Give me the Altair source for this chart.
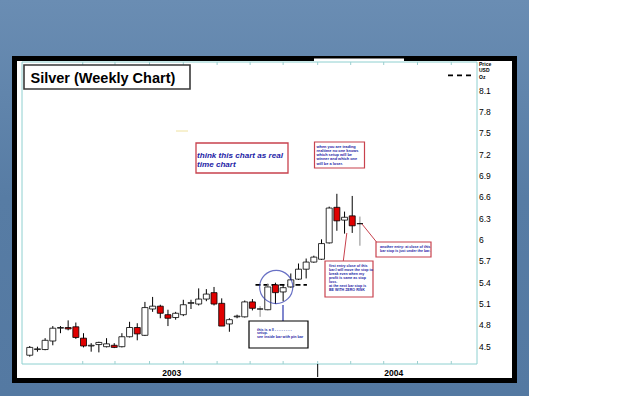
import altair as alt
import pandas as pd

# ---- data (weekly silver candles) ----
opens  = [4.38, 4.46, 4.46, 4.58, 4.76, 4.77, 4.78, 4.62, 4.51, 4.53, 4.50, 4.52, 4.50, 4.64, 4.77,
          4.66, 5.03, 5.07, 4.95, 4.91, 4.95, 5.11, 5.10, 5.17, 5.26, 5.11, 4.82, 4.92, 4.92, 5.13,
          5.03, 5.02, 5.37, 5.27, 5.34, 5.45, 5.59, 5.69, 5.73, 5.96, 6.46, 6.28, 6.34, 6.23]
highs  = [4.51, 4.50, 4.62, 4.79, 4.79, 4.87, 4.84, 4.69, 4.55, 4.57, 4.62, 4.55, 4.69, 4.85, 4.83,
          5.13, 5.20, 5.09, 5.02, 4.99, 5.16, 5.16, 5.32, 5.31, 5.34, 5.18, 4.90, 4.95, 5.15, 5.17,
          5.07, 5.39, 5.40, 5.38, 5.53, 5.67, 5.74, 5.78, 6.01, 6.47, 6.65, 6.40, 6.62, 6.33]
lows   = [4.36, 4.43, 4.45, 4.52, 4.69, 4.73, 4.61, 4.49, 4.43, 4.42, 4.49, 4.48, 4.49, 4.63, 4.59,
          4.65, 4.99, 4.90, 4.79, 4.88, 4.93, 5.03, 5.08, 5.14, 5.08, 4.79, 4.71, 4.90, 4.91, 5.01,
          4.92, 5.01, 5.10, 5.14, 5.33, 5.44, 5.46, 5.68, 5.72, 5.95, 6.13, 6.09, 6.10, 5.92]
closes = [4.49, 4.47, 4.59, 4.76, 4.77, 4.75, 4.63, 4.51, 4.52, 4.56, 4.54, 4.49, 4.64, 4.77, 4.68,
          5.05, 5.07, 4.97, 4.90, 4.97, 5.09, 5.12, 5.17, 5.24, 5.10, 4.79, 4.88, 4.93, 5.13, 5.04,
          5.03, 5.34, 5.26, 5.33, 5.44, 5.59, 5.69, 5.76, 5.95, 6.45, 6.27, 6.32, 6.20, 6.23]
live_bars = [30, 31, 43]            # bars drawn with grey wicks

price_ticks = [4.5, 4.8, 5.1, 5.4, 5.7, 6.0, 6.3, 6.6, 6.9, 7.2, 7.5, 7.8, 8.1]
price_labels = ["4.5", "4.8", "5.1", "5.4", "5.7", "6", "6.3", "6.6", "6.9", "7.2", "7.5", "7.8", "8.1"]
month_ticks = [6.9, 11.1, 15.6, 20.0, 24.4, 28.7, 33.0, 37.5, 41.8, 46.1, 50.5, 54.9]
year_names = ["2003", "2004"]
year_centres = [18.5, 47.4]
year_break = [37.5]
entry_level = [5.37]
entry_from = [29.4]
entry_to = [36.1]
setup_week = [32.1]
setup_price = [5.34]

FONT = "Liberation Sans"
BLUE_TXT = "#2323a6"
RED_BOX = "#c8414d"

candles = pd.DataFrame({"i": list(range(len(opens))), "open": opens, "high": highs,
                        "low": lows, "close": closes})
candles["fill"] = ["#e00000" if c < o else "white" for o, c in zip(opens, closes)]
candles["wick"] = ["#8a8a8a" if i in live_bars else "black" for i in candles["i"]]

xs = alt.Scale(domain=[-0.36, 57.73], range=[22, 478], zero=False, nice=False)
ys = alt.Scale(domain=[4.5, 8.1], range=[346.7, 90.7], zero=False, nice=False)

one = pd.DataFrame({"k": [0]})


def rect(x, x2, y, y2, **kw):
    return alt.Chart(one).mark_rect(**kw).encode(
        x=alt.value(x), x2=alt.value(x2), y=alt.value(y), y2=alt.value(y2))


def seg(x, y, x2, y2, **kw):
    return alt.Chart(one).mark_rule(**kw).encode(
        x=alt.value(x), x2=alt.value(x2), y=alt.value(y), y2=alt.value(y2))


def txt(x, y, lines, **kw):
    return alt.Chart(one).mark_text(text=lines, align="left", baseline="alphabetic",
                                    font=FONT, **kw).encode(x=alt.value(x), y=alt.value(y))


layers = []
# slide background
layers.append(rect(0, 529, 0, 396, fill=alt.Gradient(
    gradient="linear", x1=0, x2=0, y1=0, y2=1,
    stops=[alt.GradientStop(color="#6a8db3", offset=0),
           alt.GradientStop(color="#577ca4", offset=0.5),
           alt.GradientStop(color="#5479a2", offset=1)])))
# black frame + white sheet
layers.append(rect(12, 517, 56, 383, fill="black"))
layers.append(rect(17, 512, 61, 378, fill="white"))
layers.append(rect(314, 404, 58.5, 61, fill="white"))
# plot border
layers.append(rect(22, 477, 62, 364, fill="white", stroke="#8ed0d0", strokeWidth=1))

ticks_df = pd.DataFrame({"t": month_ticks})
layers.append(alt.Chart(ticks_df).mark_rule(color="#9ccfcf", strokeWidth=1).encode(
    x=alt.X("t:Q", scale=xs, axis=None), y=alt.value(361), y2=alt.value(364)))
layers.append(alt.Chart(ticks_df).mark_rule(color="#9ccfcf", strokeWidth=1).encode(
    x=alt.X("t:Q", scale=xs, axis=None), y=alt.value(62), y2=alt.value(65)))
layers.append(alt.Chart(pd.DataFrame({"t": year_break})).mark_rule(color="black", strokeWidth=1).encode(
    x=alt.X("t:Q", scale=xs, axis=None), y=alt.value(364), y2=alt.value(377)))
layers.append(alt.Chart(pd.DataFrame({"t": year_centres, "n": year_names})).mark_text(
    font=FONT, fontSize=8.5, fontWeight="bold", baseline="middle").encode(
    x=alt.X("t:Q", scale=xs, axis=None), y=alt.value(372.5), text="n:N"))

# right price axis
layers.append(alt.Chart(pd.DataFrame({"p": price_ticks, "l": price_labels})).mark_text(
    font=FONT, fontSize=8.5, align="left", baseline="middle").encode(
    x=alt.value(479), y=alt.Y("p:Q", scale=ys, axis=None), text="l:N"))
layers.append(txt(479, 66, ["Price", "USD", "Oz"], fontSize=5, fontWeight="bold", lineHeight=6.3))

# faint yellow mark
layers.append(seg(176, 131, 188, 131, color="#efe2a0", strokeWidth=1))

# entry dashed line
layers.append(alt.Chart(pd.DataFrame({"a": entry_from, "b": entry_to, "p": entry_level})).mark_rule(
    color="black", strokeWidth=1.8, strokeDash=[5, 3]).encode(
    x=alt.X("a:Q", scale=xs, axis=None), x2="b:Q", y=alt.Y("p:Q", scale=ys, axis=None)))

# candles
base = alt.Chart(candles)
layers.append(base.mark_rule(strokeWidth=1).encode(
    x=alt.X("i:Q", scale=xs, axis=None), y=alt.Y("low:Q", scale=ys, axis=None), y2="high:Q",
    color=alt.Color("wick:N", scale=None)))
layers.append(base.mark_bar(size=6, stroke="black", strokeWidth=0.8).encode(
    x=alt.X("i:Q", scale=xs, axis=None), y=alt.Y("open:Q", scale=ys, axis=None), y2="close:Q",
    fill=alt.Fill("fill:N", scale=None)))

# setup circle
layers.append(alt.Chart(pd.DataFrame({"w": setup_week, "p": setup_price})).mark_point(
    shape="circle", size=1100, filled=False, color="#2a36ad", strokeWidth=1.2).encode(
    x=alt.X("w:Q", scale=xs, axis=None), y=alt.Y("p:Q", scale=ys, axis=None)))

# connectors
layers.append(seg(283, 305, 283, 321, color="#2a36ad", strokeWidth=1.2))
layers.append(seg(362, 224, 376.5, 242, color=RED_BOX, strokeWidth=1))
layers.append(seg(346.8, 233, 343.3, 261, color=RED_BOX, strokeWidth=1))

# annotation boxes
layers.append(rect(196, 288, 143, 173, fill="white", stroke=RED_BOX, strokeWidth=1.3))
layers.append(txt(197, 158, ["think this chart as real", "time chart"], fontSize=8.1,
                  fontWeight="bold", fontStyle="italic", color=BLUE_TXT, lineHeight=9))

layers.append(rect(314.5, 364.5, 142, 168, fill="white", stroke=RED_BOX, strokeWidth=1.2))
layers.append(txt(316.5, 147.5, ["when you are trading", "realtime no one knows",
                                 "which setup will be", "winner and which one",
                                 "will be a loser."],
                  fontSize=3.9, fontWeight="bold", color=BLUE_TXT, lineHeight=4.3))

layers.append(rect(376, 431, 242, 257, fill="white", stroke=RED_BOX, strokeWidth=1.2))
layers.append(txt(380, 248.3, ["another entry: at close of this", "bar stop is just under the bar."],
                  fontSize=3.6, fontWeight="bold", color=BLUE_TXT, lineHeight=4))

layers.append(rect(325, 373, 261, 297, fill="white", stroke=RED_BOX, strokeWidth=1.2))
layers.append(txt(329, 267, ["first entry close of this", "bar.I will move the stop to",
                             "break even when my", "profit is same as stop",
                             "loss.", "at the next bar stop is", "BE WITH ZERO RISK"],
                  fontSize=3.6, fontWeight="bold", color=BLUE_TXT, lineHeight=3.95))

layers.append(rect(249, 308, 321, 348, fill="white", stroke="black", strokeWidth=1.2))
layers.append(txt(257, 330.5, ["this is a II - - - - - - - -", "setup.", "see inside bar with pin bar"],
                  fontSize=3.7, fontWeight="bold", color=BLUE_TXT, lineHeight=3.9))

# title box
layers.append(rect(24, 190, 65, 89, fill="white", stroke="#3a3a3a", strokeWidth=1.6))
layers.append(txt(30.5, 83.3, "Silver (Weekly Chart)", fontSize=14.5, fontWeight="bold", color="black"))

# legend dashes top right
layers.append(seg(448, 75.3, 472, 75.3, color="black", strokeWidth=1.8, strokeDash=[5, 4]))

chart = alt.layer(*layers).properties(
    width=625, height=406, autosize=alt.AutoSizeParams(type="none"), padding=0,
    background="white",
).configure_view(stroke=None)

chart.save("out.html", embed_options={"renderer": "svg", "actions": False})
